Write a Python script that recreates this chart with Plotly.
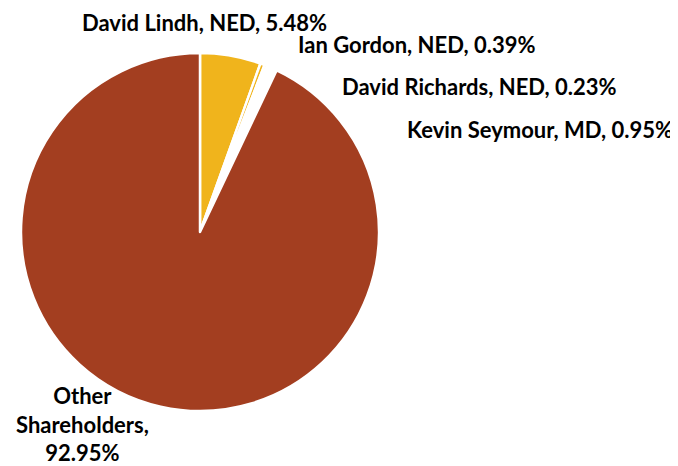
import plotly.graph_objects as go

names = ["David Lindh, NED", "Ian Gordon, NED", "David Richards, NED", "Kevin Seymour, MD", "Other Shareholders"]
values = [5.48, 0.39, 0.23, 0.95, 92.95]
colors = ["#F0B41C", "#F0B41C", "#F0B41C", "#FFFFFF", "#A33E20"]

W, H = 678, 466
cx, cy, r = 192, 224, 179

fig = go.Figure(go.Pie(
    labels=names, values=values, sort=False, direction="clockwise", rotation=0,
    marker=dict(colors=colors, line=dict(color="white", width=2.5)),
    textinfo="none", hoverinfo="label+percent", showlegend=False,
    domain=dict(x=[(cx - r) / W, (cx + r) / W], y=[(H - cy - r) / H, (H - cy + r) / H]),
))

# label placements (x, y, xanchor, yanchor) in figure pixels
label_pos = [(73, 0, "left", "top"), (289, 36, "left", "middle"), (333, 79, "left", "middle"),
             (398, 122, "left", "middle"), (74, 373, "center", "top")]
font = dict(family="Lato, Carlito, sans-serif", size=22, color="black")
for (x, y, anchor, ya), n, v in zip(label_pos, names, values):
    if n == "Other Shareholders":
        txt = "Other<br>Shareholders,<br>" + f"{v:.2f}%"
        al = "center"
    else:
        txt = f"{n}, {v:.2f}%"
        al = "left"
    fig.add_annotation(x=x / W, y=1 - y / H, xref="paper", yref="paper", text=f"<b>{txt}</b>",
                       showarrow=False, xanchor=anchor, yanchor=ya, font=font, align=al,
                       borderpad=0)

fig.update_layout(width=W, height=H, margin=dict(l=0, r=0, t=0, b=0),
                  paper_bgcolor="white", plot_bgcolor="white")
fig.write_html("out.html")
